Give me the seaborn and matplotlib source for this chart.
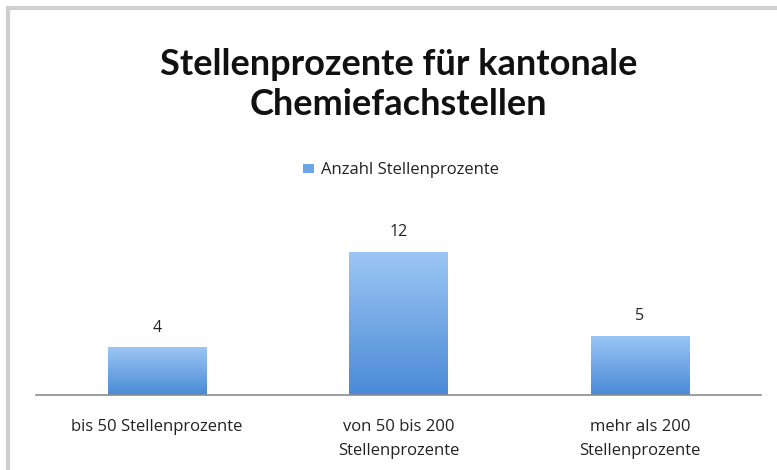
import matplotlib
matplotlib.use('Agg')
import matplotlib.pyplot as plt
import seaborn as sns
import pandas as pd
import numpy as np
from matplotlib.patches import Rectangle

categories = ['bis 50 Stellenprozente', 'von 50 bis 200\nStellenprozente', 'mehr als 200\nStellenprozente']
values = [4, 12, 5]
series_name = 'Anzahl Stellenprozente'
title = 'Stellenprozente für kantonale\nChemiefachstellen'

sns.set_style('white')
plt.rcParams['font.family'] = ['Open Sans', 'DejaVu Sans']

df = pd.DataFrame({'Kategorie': categories, 'Wert': values})

fig = plt.figure(figsize=(7.77, 4.70), dpi=100)
ax = fig.add_axes([0.0463, 0.1596, 0.9327, 0.415])

sns.barplot(data=df, x='Kategorie', y='Wert', color='#5b9be0', width=0.406, ax=ax)

# gradient fill for the bars
grad = np.linspace(0, 1, 256).reshape(-1, 1)
cmap = matplotlib.colors.LinearSegmentedColormap.from_list('g', ['#4a8ad6', '#9cc6f4'])
for p in ax.patches:
    x0, y0 = p.get_x(), p.get_y()
    w, h = p.get_width(), p.get_height()
    p.set_facecolor('none')
    p.set_edgecolor('none')
    im = ax.imshow(grad, cmap=cmap, extent=[x0, x0 + w, y0, y0 + h],
                   origin='lower', aspect='auto', zorder=2)
    im.set_clip_path(p)
    ax.text(x0 + w / 2, h + 1.0, f'{h:g}', ha='center', va='bottom',
            fontsize=11.5, color='#222222')
ax.set_ylim(0, 16.4)
ax.set_xlim(-0.5, 2.5)

for s in ['top', 'right', 'left']:
    ax.spines[s].set_visible(False)
ax.spines['bottom'].set_color('#8c8c8c')
ax.spines['bottom'].set_linewidth(1.2)
ax.set_yticks([])
ax.set_xlabel('')
ax.set_ylabel('')
ax.tick_params(axis='x', length=0, pad=17, labelsize=12, labelcolor='#222222')
for t in ax.get_xticklabels():
    t.set_linespacing(1.7)

fig.text(0.513, 0.82, title, ha='center', va='center', fontsize=26,
         fontweight='bold', family=['Lato', 'DejaVu Sans'], color='#111111',
         linespacing=1.28)

handles = [Rectangle((0, 0), 1, 1, facecolor='#6aa6e8', edgecolor='none')]
fig.legend(handles, [series_name], loc='center', bbox_to_anchor=(0.516, 0.638),
           frameon=False, fontsize=12, handlelength=0.7, handleheight=0.45,
           handletextpad=0.4, labelcolor='#222222')

fig.patches.append(Rectangle((8 / 777, -0.05), 1.2, 1 - 8 / 470 + 0.05,
                             transform=fig.transFigure, fill=False,
                             edgecolor='#cfcfcf', linewidth=3))

fig.savefig('out.png', dpi=100)
